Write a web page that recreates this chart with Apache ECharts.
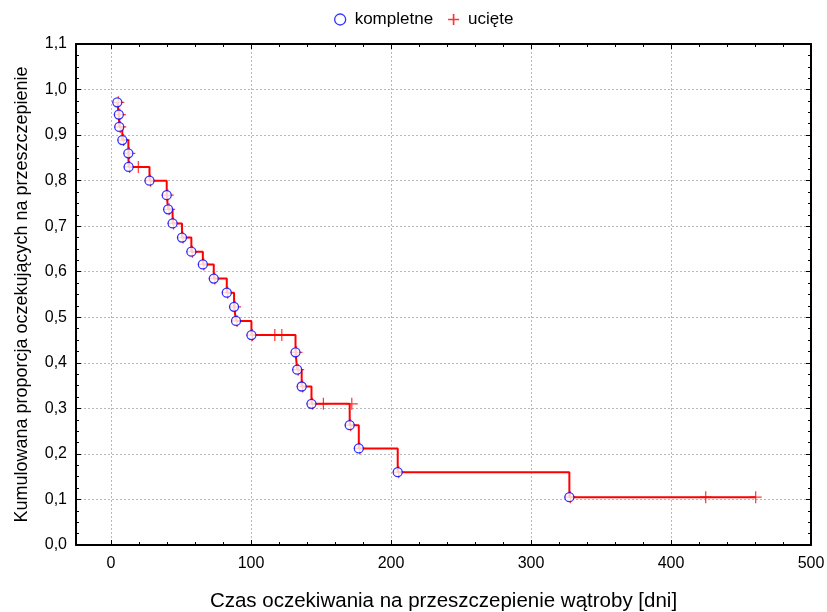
<!DOCTYPE html>
<html>
<head>
<meta charset="utf-8">
<script src="https://cdn.jsdelivr.net/npm/echarts@6/dist/echarts.min.js"></script>
<style>
html,body{margin:0;padding:0;background:#fff;}
#chart{width:827px;height:612px;}
</style>
</head>
<body>
<div id="chart"></div>
<script>
// ---- data ----
const eventTimes = [4.5, 5.6, 5.9, 8.1, 12.4, 12.6, 27.5, 39.8, 40.8, 44.0, 50.7, 57.4, 65.6, 73.4, 82.7, 87.9, 89.3, 100.3, 131.8, 133.0, 136.2, 143.2, 170.5, 177.0, 204.8, 327.4];
const eventSurv  = [0.972, 0.945, 0.918, 0.889, 0.860, 0.830, 0.800, 0.768, 0.737, 0.706, 0.675, 0.644, 0.616, 0.585, 0.554, 0.523, 0.492, 0.461, 0.423, 0.385, 0.348, 0.310, 0.263, 0.212, 0.160, 0.105];
const censTimes  = [5.2, 6.3, 6.6, 9.0, 13.1, 13.3, 19.5, 28.2, 40.5, 41.5, 44.7, 51.4, 58.1, 66.3, 74.1, 83.4, 88.6, 90.0, 101.0, 117.0, 122.0, 132.5, 133.7, 136.9, 143.9, 151.7, 172.0, 171.2, 177.7, 205.5, 328.1, 424.8, 460.5];
const censSurv   = [0.972, 0.945, 0.918, 0.889, 0.860, 0.830, 0.830, 0.800, 0.768, 0.737, 0.706, 0.675, 0.644, 0.616, 0.585, 0.554, 0.523, 0.492, 0.461, 0.461, 0.461, 0.423, 0.385, 0.348, 0.310, 0.310, 0.310, 0.263, 0.212, 0.160, 0.105, 0.105, 0.105];
const lastTime = 460.5;
const xTicks = [0, 100, 200, 300, 400, 500];
const yTicks = [0.0, 0.1, 0.2, 0.3, 0.4, 0.5, 0.6, 0.7, 0.8, 0.9, 1.0, 1.1];

const seriesNames = ['kompletne', 'ucięte'];
const xTitle = 'Czas oczekiwania na przeszczepienie wątroby [dni]';
const yTitle = 'Kumulowana proporcja oczekujących na przeszczepienie';

// ---- build ----
const events = eventTimes.map((t, i) => [t, eventSurv[i]]);
const cens = censTimes.map((t, i) => [t, censSurv[i]]);
const curve = events.concat([[lastTime, eventSurv[eventSurv.length - 1]]]);

const FONT = '"Liberation Sans", Arial, sans-serif';
const plusPath = 'path://M0,5.4H12V6.6H0Z M5.4,0H6.6V12H5.4Z';
const plusLegend = 'path://M0,5.1H12V6.9H0Z M5.1,0H6.9V12H5.1Z';
const gridLine = { show: true, lineStyle: { color: '#b8b8b8', width: 1, type: [2, 2] } };
const boxLine = { show: true, onZero: false, lineStyle: { color: '#000', width: 2 } };
const tickIn = { show: true, inside: true, length: 5, lineStyle: { color: '#000', width: 1 } };
const minorT = { show: true, length: 3, lineStyle: { color: '#000', width: 1 } };

const chart = echarts.init(document.getElementById('chart'), null, { renderer: 'canvas' });
chart.setOption({
  animation: false,
  backgroundColor: '#fff',
  textStyle: { fontFamily: FONT },
  legend: {
    top: 6,
    left: 329,
    itemGap: 15,
    itemWidth: 19,
    itemHeight: 11,
    textStyle: { fontSize: 17, color: '#000', fontFamily: FONT },
    data: [
      { name: seriesNames[0], icon: 'circle', itemStyle: { color: '#fff', borderColor: '#0000ff', borderWidth: 1.3 } },
      { name: seriesNames[1], icon: plusLegend, itemStyle: { color: '#ff0000' } }
    ]
  },
  grid: [
    { left: 76, right: 16, top: 44, bottom: 67, outerBoundsMode: 'none', containLabel: false },
    { left: 111, right: 16, top: 44, bottom: 67, outerBoundsMode: 'none', containLabel: false }
  ],
  xAxis: [
    { type: 'value', gridIndex: 0, min: -25, max: 500, position: 'bottom',
      axisLine: boxLine, axisTick: { show: false }, axisLabel: { show: false }, splitLine: { show: false },
      name: xTitle, nameLocation: 'middle', nameGap: 46,
      nameTextStyle: { fontSize: 20.5, color: '#000', fontFamily: FONT } },
    { type: 'value', gridIndex: 0, min: -25, max: 500, position: 'top',
      axisLine: boxLine, axisTick: { show: false }, axisLabel: { show: false }, splitLine: { show: false } },
    { type: 'value', gridIndex: 1, min: xTicks[0], max: xTicks[xTicks.length - 1], interval: 100, position: 'bottom',
      axisLine: { show: false }, axisTick: tickIn,
      minorTick: Object.assign({ splitNumber: 5 }, minorT),
      axisLabel: { show: true, margin: 11, fontSize: 16, color: '#000', fontFamily: FONT, showMaxLabel: true, showMinLabel: true },
      splitLine: gridLine },
    { type: 'value', gridIndex: 1, min: xTicks[0], max: xTicks[xTicks.length - 1], interval: 100, position: 'top',
      axisLine: { show: false }, axisTick: tickIn,
      minorTick: Object.assign({ splitNumber: 5 }, minorT),
      axisLabel: { show: false }, splitLine: { show: false } }
  ],
  yAxis: [
    { type: 'value', gridIndex: 0, min: yTicks[0], max: yTicks[yTicks.length - 1], interval: 0.1, position: 'left',
      axisLine: boxLine, axisTick: tickIn,
      minorTick: Object.assign({ splitNumber: 4 }, minorT),
      axisLabel: { margin: 9, fontSize: 16, color: '#000', fontFamily: FONT,
        formatter: v => v.toFixed(1).replace('.', ',') },
      splitLine: gridLine,
      name: yTitle, nameLocation: 'middle', nameGap: 45,
      nameTextStyle: { fontSize: 18, color: '#000', fontFamily: FONT } },
    { type: 'value', gridIndex: 0, min: yTicks[0], max: yTicks[yTicks.length - 1], interval: 0.1, position: 'right',
      axisLine: boxLine, axisTick: tickIn,
      minorTick: Object.assign({ splitNumber: 4 }, minorT),
      axisLabel: { show: false }, splitLine: { show: false } },
    { type: 'value', gridIndex: 1, min: 0, max: 1.1, show: false }
  ],
  series: [
    { name: 'krzywa', type: 'line', step: 'end', xAxisIndex: 0, yAxisIndex: 0, data: curve,
      symbol: 'none', silent: true, z: 2, lineStyle: { color: '#ff0000', width: 2 } },
    { name: seriesNames[1], type: 'scatter', xAxisIndex: 0, yAxisIndex: 0, data: cens,
      symbol: plusPath, symbolSize: 12, z: 3, itemStyle: { color: '#ff0000' } },
    { name: seriesNames[0], type: 'scatter', xAxisIndex: 0, yAxisIndex: 0, data: events,
      symbol: 'circle', symbolSize: 9, z: 4, itemStyle: { color: '#fff', borderColor: '#0000ff', borderWidth: 1.3 } }
  ]
});
</script>
</body>
</html>
